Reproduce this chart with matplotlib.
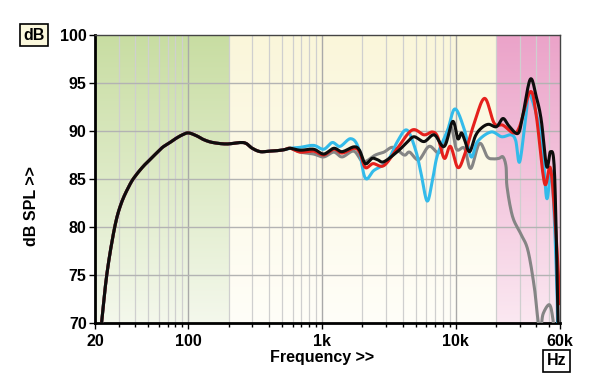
import numpy as np
import matplotlib
matplotlib.use("Agg")
import matplotlib.pyplot as plt
from matplotlib.colors import LinearSegmentedColormap

FONT = ['Liberation Sans Narrow', 'Liberation Sans', 'DejaVu Sans']
plt.rcParams['font.family'] = FONT
plt.rcParams['font.weight'] = 'bold'

# shared low-frequency part (all four curves coincide here)
low_f = [22.4, 24.6, 28.1, 31.5, 36.4, 40, 45.8, 51.4, 57.7, 64, 72.7, 80, 90, 100,
         115, 130, 152, 193, 243, 270, 300, 344, 400, 458, 520, 577]
low_db = [70.0, 75.2, 80.0, 82.5, 84.4, 85.3, 86.3, 87.0, 87.7, 88.3, 88.8, 89.2, 89.6, 89.8,
          89.5, 89.1, 88.8, 88.65, 88.8, 88.7, 88.2, 87.85, 87.9, 87.95, 88.05, 88.2]

black_f = [686, 863, 1026, 1222, 1410, 1724, 1900, 2100, 2361, 2600, 2895, 3650, 4300, 4860,
           5780, 6880, 8190, 9460, 10330, 11000, 11590, 12650, 14000, 15490, 17500, 20100,
           22500, 25000, 29100, 31500, 36000, 40000, 43500, 47700, 51000, 54500, 57500, 58000, 59000]
black_db = [88.0, 88.1, 87.6, 88.2, 87.85, 88.35, 88.0, 86.6, 87.15, 87.0, 86.8, 87.85, 88.8, 89.4,
            88.9, 89.6, 88.4, 91.0, 89.2, 89.8, 89.1, 87.85, 89.5, 90.3, 90.7, 90.45,
            91.3, 90.5, 89.75, 91.5, 95.4, 93.5, 91.1, 86.3, 87.85, 85.9, 73.1, 70.3, 68.0]

red_f = [686, 863, 1026, 1222, 1410, 1724, 1900, 2100, 2400, 2895, 3650, 4700, 5780, 6660,
         7300, 8190, 9100, 10330, 11590, 13700, 16400, 19350, 22500, 27000, 30000, 36000,
         40000, 46000, 51000, 56000, 59000, 60000]
red_db = [87.8, 87.9, 87.5, 88.1, 87.7, 88.2, 87.8, 86.2, 86.6, 86.4, 88.2, 90.1, 89.6, 89.9,
          89.4, 87.15, 88.4, 86.2, 87.5, 90.8, 93.4, 90.8, 90.6, 89.8, 90.5, 94.1,
          91.5, 84.55, 86.1, 79.3, 73.8, 72.0]

blue_f = [686, 863, 1026, 1190, 1360, 1630, 1860, 2100, 2440, 3060, 3650, 4300, 5000, 5500,
          6100, 6700, 7280, 8670, 9850, 11590, 13000, 14500, 18300, 22000, 25800, 28000,
          30000, 33500, 35500, 43500, 47700, 51500, 54500, 57000, 57500, 58000]
blue_db = [88.3, 88.5, 88.1, 88.8, 88.4, 89.2, 88.3, 85.1, 85.9, 86.8, 88.9, 90.1, 88.0, 85.5,
           82.7, 85.0, 87.5, 90.1, 92.3, 90.1, 87.3, 88.9, 89.9, 89.4, 89.6, 89.0,
           86.8, 91.8, 93.9, 89.4, 83.0, 85.9, 80.7, 73.1, 70.0, 68.0]

gray_f = [686, 863, 1026, 1222, 1410, 1724, 2030, 2500, 2895, 3390, 4100, 4500, 5270, 6300,
          7600, 9100, 10100, 11590, 12900, 15000, 17200, 19000, 21000, 22500, 23700, 24100,
          26500, 30500, 34500, 38500, 40500, 42000, 43500, 45000, 50000, 53000, 55000]
gray_db = [87.8, 87.6, 87.3, 87.8, 87.3, 87.9, 86.8, 87.5, 87.8, 88.3, 87.5, 87.8, 87.0, 88.4,
           87.8, 90.45, 88.1, 88.2, 86.1, 88.7, 87.3, 87.1, 87.15, 87.3, 86.3, 84.2,
           81.1, 79.3, 77.6, 73.8, 71.0, 69.5, 69.8, 71.0, 71.9, 70.5, 68.0]

x_ticks = [20, 100, 1000, 10000, 60000]
x_labels = ['20', '100', '1k', '10k', '60k']
y_ticks = [70, 75, 80, 85, 90, 95, 100]


def smooth(f, db, n=12):
    # Catmull-Rom through the points, in log-frequency, for drawing only
    x = np.log10(f)
    y = np.asarray(db, dtype=float)
    px = np.concatenate([[2 * x[0] - x[1]], x, [2 * x[-1] - x[-2]]])
    py = np.concatenate([[2 * y[0] - y[1]], y, [2 * y[-1] - y[-2]]])
    xs, ys = [], []
    t = np.linspace(0, 1, n, endpoint=False)
    for i in range(1, len(px) - 2):
        for arr, out in ((px, xs), (py, ys)):
            p0, p1, p2, p3 = arr[i - 1:i + 3]
            out.extend(0.5 * (2 * p1 + (-p0 + p2) * t + (2 * p0 - 5 * p1 + 4 * p2 - p3) * t ** 2
                              + (-p0 + 3 * p1 - 3 * p2 + p3) * t ** 3))
    xs.append(x[-1])
    ys.append(y[-1])
    return 10 ** np.array(xs), np.array(ys)


fig = plt.figure(figsize=(6, 3.89), dpi=100)
ax = fig.add_axes([0.1583, 0.1697, 0.775, 0.7403])
ax.set_xscale('log')
ax.set_xlim(20, 60000)
ax.set_ylim(70, 100)

# background bands with vertical gradient
span = np.log10(60000 / 20)
g_end = np.log10(200 / 20) / span
p_start = np.log10(20000 / 20) / span
grad = np.linspace(1, 0, 256).reshape(-1, 1)
bands = [(0, g_end, '#f4f8ec', '#c8dda2'),
         (g_end, p_start, '#fffef8', '#faf6da'),
         (p_start, 1, '#fbe8f1', '#eba3c9')]
for x0, x1, c_bot, c_top in bands:
    cmap = LinearSegmentedColormap.from_list('b', [c_bot, c_top])
    ax.imshow(grad, cmap=cmap, aspect='auto', extent=[x0, x1, 0, 1],
              transform=ax.transAxes, zorder=0, interpolation='bicubic')

# grid
minor = [m * 10 ** e for e in range(1, 5) for m in range(2, 10) if 20 < m * 10 ** e < 60000]
for f in minor:
    ax.axvline(f, color='#cfcfcf', lw=0.9, zorder=1)
for f in [100, 1000, 10000]:
    ax.axvline(f, color='#a9a9a9', lw=1.0, zorder=1)
for y in y_ticks[1:-1]:
    ax.axhline(y, color='#b3b3b3', lw=1.0, zorder=1)

lw = 2.2
series = [(gray_f, gray_db, '#858585'), (blue_f, blue_db, '#33bbea'),
          (red_f, red_db, '#e5201c'), (black_f, black_db, '#0d0d0d')]
for z, (f, db, c) in enumerate(series):
    xs, ys = smooth(low_f + f, low_db + db)
    ax.plot(xs, ys, color=c, lw=lw, zorder=3 + z, solid_capstyle='round',
            solid_joinstyle='round')

ax.set_xticks(x_ticks)
ax.set_xticklabels(x_labels)
ax.set_xticks(minor, minor=True)
ax.set_xticklabels([], minor=True)
ax.set_yticks(y_ticks)
ax.tick_params(axis='both', which='major', direction='out', length=4, width=1,
               labelsize=11.5, color='black')
ax.tick_params(axis='x', which='minor', direction='out', length=3, width=1)
ax.tick_params(axis='x', pad=4)
ax.tick_params(axis='y', pad=2)
for lab in ax.get_xticklabels() + ax.get_yticklabels():
    lab.set_fontweight('bold')

for s in ['left', 'bottom']:
    ax.spines[s].set_linewidth(2)
    ax.spines[s].set_color('black')
for s in ['top', 'right']:
    ax.spines[s].set_linewidth(1)
    ax.spines[s].set_color('#444444')

fig.text(0.052, 0.47, 'dB SPL >>', rotation=90, ha='center', va='center',
         fontsize=11.5, fontweight='bold')
fig.text(0.537, 0.082, 'Frequency >>', ha='center', va='center',
         fontsize=11.5, fontweight='bold')
fig.text(0.057, 0.91, 'dB', ha='center', va='center', fontsize=11.5, fontweight='bold',
         bbox=dict(boxstyle='square,pad=0.22', fc='#fbf8dc', ec='black', lw=1.2))
fig.text(0.928, 0.072, 'Hz', ha='center', va='center', fontsize=11.5, fontweight='bold',
         bbox=dict(boxstyle='square,pad=0.22', fc='white', ec='black', lw=1.2))

fig.savefig('out.png', dpi=100)
